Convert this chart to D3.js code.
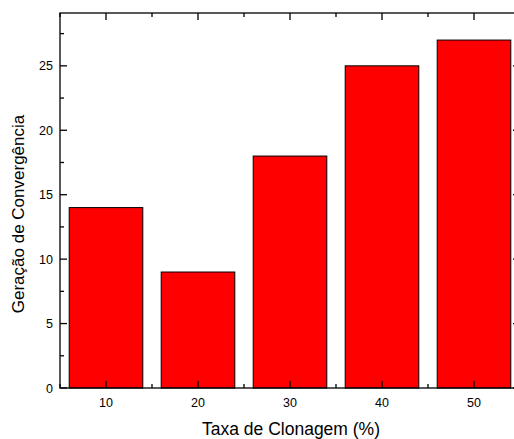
<!DOCTYPE html>
<html><head><meta charset="utf-8">
<script src="https://cdn.jsdelivr.net/npm/d3@7"></script>
<style>body{margin:0;background:#fff;overflow:hidden}svg{display:block}text{font-family:"Liberation Sans",Arial,sans-serif}</style>
</head><body>
<script>
const categories = [10, 20, 30, 40, 50];
const values = [14, 9, 18, 25, 27];
const yTicks = [0, 5, 10, 15, 20, 25];
const xTitle = "Taxa de Clonagem (%)";
const yTitle = "Geração de Convergência";

const W = 514, H = 439;
const m = {left: 60, top: 13, right: 520, bottom: 388};
const svg = d3.select("body").append("svg").attr("width", W).attr("height", H);
const x = d3.scaleLinear().domain([5, 55]).range([m.left, m.right]);
const y = d3.scaleLinear().domain([0, 29.1]).range([m.bottom, m.top]);
const barW = x(8) - x(0);

svg.append("g").selectAll("rect").data(values).join("rect")
  .attr("x", (d, i) => x(categories[i]) - barW / 2)
  .attr("y", d => y(d))
  .attr("width", barW)
  .attr("height", d => y(0) - y(d))
  .attr("fill", "#ff0000").attr("stroke", "#000").attr("stroke-width", 1);

const ax = svg.append("g").attr("stroke", "#000").attr("stroke-width", 1.3).attr("fill", "none");
ax.append("rect").attr("x", m.left).attr("y", m.top).attr("width", m.right - m.left).attr("height", m.bottom - m.top);

const xMinor = d3.range(5, 56, 5);
xMinor.forEach(v => {
  const major = categories.includes(v);
  const len = major ? 7 : 4;
  ax.append("line").attr("x1", x(v)).attr("x2", x(v)).attr("y1", m.bottom).attr("y2", m.bottom - len);
  ax.append("line").attr("x1", x(v)).attr("x2", x(v)).attr("y1", m.top).attr("y2", m.top + len);
});
const yMinor = d3.range(0, 29, 2.5);
yMinor.forEach(v => {
  const major = yTicks.includes(v);
  const len = major ? 7 : 4;
  ax.append("line").attr("y1", y(v)).attr("y2", y(v)).attr("x1", m.left).attr("x2", m.left + len);
  ax.append("line").attr("y1", y(v)).attr("y2", y(v)).attr("x1", m.right).attr("x2", m.right - len);
});

svg.append("g").selectAll("text").data(categories).join("text")
  .attr("x", d => x(d)).attr("y", 407).attr("text-anchor", "middle")
  .attr("font-size", 12.5).attr("fill", "#000").text(d => d);
svg.append("g").selectAll("text").data(yTicks).join("text")
  .attr("x", 53).attr("y", d => y(d) + 4.5).attr("text-anchor", "end")
  .attr("font-size", 12.5).attr("fill", "#000").text(d => d);

svg.append("text").attr("x", 291).attr("y", 435).attr("text-anchor", "middle")
  .attr("font-size", 17.5).attr("fill", "#000").text(xTitle);
svg.append("text").attr("transform", "translate(24,214) rotate(-90)").attr("text-anchor", "middle")
  .attr("font-size", 17).attr("fill", "#000").text(yTitle);
</script>
</body></html>
